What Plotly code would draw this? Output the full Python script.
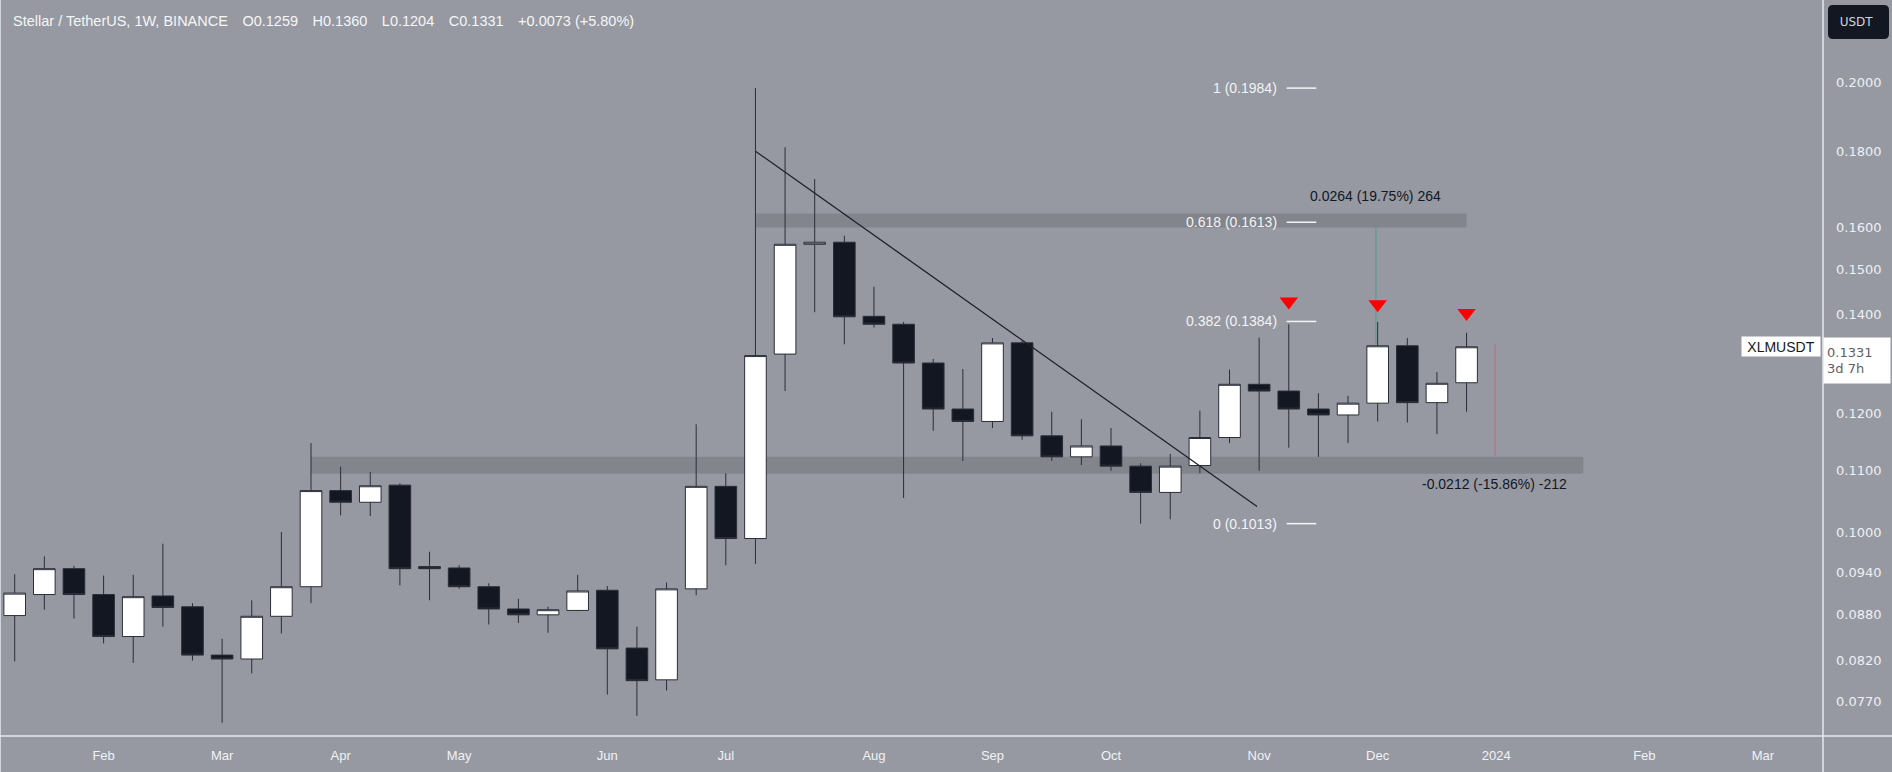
import numpy as np
import pandas as pd
import plotly.graph_objects as go

# XLM/USDT weekly candles (Binance), week of 16 Jan 2023 to week of 25 Dec 2023
weeks = pd.date_range("2023-01-16", periods=50, freq="W-MON")

opens = [0.0879, 0.0908, 0.0945, 0.0908, 0.0851, 0.0906, 0.0891, 0.0827, 0.0822, 0.0878,
         0.0919, 0.1066, 0.1047, 0.1075, 0.0948, 0.0946, 0.0919, 0.0888, 0.0880, 0.0886,
         0.0914, 0.0836, 0.0796, 0.0916, 0.1073, 0.0990, 0.1316, 0.1559, 0.1564, 0.1395,
         0.1378, 0.1298, 0.1209, 0.1186, 0.1339, 0.1160, 0.1123, 0.1142, 0.1107, 0.1063,
         0.1108, 0.1157, 0.1256, 0.1243, 0.1209, 0.1198, 0.1220, 0.1333, 0.1221, 0.1259]
highs = [0.0937, 0.0963, 0.0949, 0.0935, 0.0936, 0.0982, 0.0896, 0.0848, 0.0900, 0.1000,
         0.1147, 0.1106, 0.1097, 0.1078, 0.0970, 0.0950, 0.0924, 0.0902, 0.0891, 0.0936,
         0.0920, 0.0864, 0.0925, 0.1181, 0.1095, 0.1984, 0.1811, 0.1724, 0.1580, 0.1460,
         0.1383, 0.1306, 0.1286, 0.1349, 0.1344, 0.1204, 0.1190, 0.1174, 0.1112, 0.1128,
         0.1206, 0.1285, 0.1350, 0.1378, 0.1239, 0.1234, 0.1383, 0.1349, 0.1280, 0.1360]
lows = [0.0819, 0.0887, 0.0875, 0.0842, 0.0817, 0.0864, 0.0820, 0.0745, 0.0804, 0.0855,
        0.0896, 0.1026, 0.1025, 0.0921, 0.0900, 0.0916, 0.0867, 0.0869, 0.0856, 0.0885,
        0.0778, 0.0753, 0.0783, 0.0907, 0.0950, 0.0952, 0.1243, 0.1404, 0.1336, 0.1371,
        0.1054, 0.1169, 0.1116, 0.1174, 0.1153, 0.1116, 0.1109, 0.1099, 0.1013, 0.1020,
        0.1095, 0.1147, 0.1099, 0.1139, 0.1123, 0.1147, 0.1186, 0.1184, 0.1163, 0.1204]
closes = [0.0910, 0.0945, 0.0908, 0.0851, 0.0905, 0.0890, 0.0827, 0.0822, 0.0878, 0.0919,
          0.1066, 0.1047, 0.1074, 0.0945, 0.0945, 0.0919, 0.0888, 0.0880, 0.0887, 0.0913,
          0.0835, 0.0795, 0.0916, 0.1073, 0.0990, 0.1313, 0.1559, 0.1564, 0.1394, 0.1378,
          0.1298, 0.1209, 0.1186, 0.1339, 0.1160, 0.1123, 0.1142, 0.1107, 0.1063, 0.1107,
          0.1157, 0.1256, 0.1243, 0.1209, 0.1198, 0.1220, 0.1333, 0.1221, 0.1258, 0.1331]

# drawings on the chart
fib_levels = ["1", "0.618", "0.382", "0"]
fib_prices = [0.1984, 0.1613, 0.1384, 0.1013]
fib_dates = ["2023-11-12 12:00", "2023-11-19 12:00"]

trend_dates = ["2023-07-10", "2023-11-05 12:00"]
trend_prices = [0.1800, 0.1040]

support_dates = ["2023-03-27", "2024-01-21 14:00"]
support_prices = [0.1094, 0.1123]
resist_dates = ["2023-07-10", "2023-12-25"]
resist_prices = [0.1600, 0.1635]

arrow_dates = ["2023-11-13", "2023-12-04", "2023-12-25"]
arrow_prices = [0.1427, 0.1421, 0.1402]

up_date = "2023-12-03 14:00"
up_prices = [0.1337, 0.1601]
down_date = "2023-12-31 17:00"
down_prices = [0.1337, 0.1125]

y_ticks = [0.077, 0.082, 0.088, 0.094, 0.10, 0.11, 0.12, 0.14, 0.15, 0.16, 0.18, 0.20]
y_labels = [f"{v:.4f}" for v in y_ticks]

month_ticks = ["2023-02-06", "2023-03-06", "2023-04-03", "2023-05-01", "2023-06-05",
               "2023-07-03", "2023-08-07", "2023-09-04", "2023-10-02", "2023-11-06",
               "2023-12-04", "2024-01-01", "2024-02-05", "2024-03-04"]
month_labels = ["Feb", "Mar", "Apr", "May", "Jun", "Jul", "Aug", "Sep", "Oct", "Nov",
                "Dec", "2024", "Feb", "Mar"]

BG = "#9699a2"
BAND = "#83858d"
W, H = 1892, 772
ML, MR, MT, MB = 0, 69, 0, 36
PW, PH = W - ML - MR, H - MT - MB

fig = go.Figure()

fig.add_trace(go.Scatter(x=[up_date, up_date], y=up_prices, mode="lines",
                         line=dict(color="rgba(8,153,129,0.45)", width=1),
                         hoverinfo="skip", showlegend=False))
fig.add_trace(go.Scatter(x=[down_date, down_date], y=down_prices, mode="lines",
                         line=dict(color="rgba(242,54,69,0.45)", width=1),
                         hoverinfo="skip", showlegend=False))

for p in fib_prices:
    fig.add_trace(go.Scatter(x=fib_dates, y=[p, p], mode="lines",
                             line=dict(color="rgba(255,255,255,0.9)", width=1.5),
                             hoverinfo="skip", showlegend=False))

fig.add_trace(go.Candlestick(
    x=weeks, open=opens, high=highs, low=lows, close=closes,
    increasing=dict(fillcolor="#ffffff", line=dict(color="#2a2e39", width=1)),
    decreasing=dict(fillcolor="#131722", line=dict(color="#2a2e39", width=1)),
    whiskerwidth=0, hoverinfo="skip", showlegend=False))

fig.add_trace(go.Scatter(x=trend_dates, y=trend_prices, mode="lines",
                         line=dict(color="#1e222d", width=1.3),
                         hoverinfo="skip", showlegend=False))

fig.add_trace(go.Scatter(x=arrow_dates, y=arrow_prices, mode="markers",
                         marker=dict(symbol="triangle-down", size=16, color="#ff0000",
                                     line=dict(width=0)),
                         hoverinfo="skip", showlegend=False))

ann = []
for lvl, p in zip(fib_levels, fib_prices):
    ann.append(dict(x=fib_dates[0], y=np.log10(p), xref="x", yref="y",
                    text=f"{lvl} ({p:.4f})", showarrow=False, xanchor="right",
                    xshift=-8, font=dict(size=14, color="#f2f3f6")))

up_diff = up_prices[1] - up_prices[0]
down_diff = down_prices[1] - down_prices[0]
ann.append(dict(x=up_date, y=np.log10(0.1680), xref="x", yref="y", showarrow=False,
                text=f"{up_diff:.4f} ({up_diff / up_prices[0] * 100:.2f}%) {round(up_diff * 10000)}",
                font=dict(size=14, color="#131722")))
ann.append(dict(x=down_date, y=np.log10(0.1077), xref="x", yref="y", showarrow=False,
                text=f"{down_diff:.4f} ({down_diff / down_prices[0] * 100:.2f}%) {round(down_diff * 10000)}",
                font=dict(size=14, color="#131722")))

o, h, l, c = opens[-1], highs[-1], lows[-1], closes[-1]
chg = c - closes[-2]
sp = "\u2002"
header = (f"Stellar / TetherUS, 1W, BINANCE{sp}{sp}O{o:.4f}{sp}{sp}H{h:.4f}{sp}{sp}"
          f"L{l:.4f}{sp}{sp}C{c:.4f}{sp}{sp}{chg:+.4f} ({chg / closes[-2] * 100:+.2f}%)")
ann.append(dict(x=0, y=1, xref="paper", yref="paper", xanchor="left", yanchor="middle",
                xshift=11, yshift=-21, text=header, showarrow=False,
                font=dict(size=14.5, color="#f5f6f8")))

ann.append(dict(x=1, y=np.log10(c), xref="paper", yref="y", xanchor="right",
                yanchor="middle", xshift=-2, text="XLMUSDT", showarrow=False,
                bgcolor="#ffffff", borderpad=2, width=74, height=15,
                font=dict(size=14, color="#131722")))
ann.append(dict(x=1, y=np.log10(c), xref="paper", yref="y", xanchor="left",
                yanchor="top", xshift=0, yshift=10, text=f"{c:.4f}<br>3d 7h",
                showarrow=False, align="left", bgcolor="#ffffff", borderpad=3,
                width=60, height=39,
                font=dict(family="DejaVu Sans", size=13, color="#5d606b")))
ann.append(dict(x=1, y=1, xref="paper", yref="paper", xanchor="right", yanchor="middle",
                xshift=MR - 3, yshift=-22, width=61, height=20, align="center",
                text="USDT", showarrow=False,
                font=dict(family="DejaVu Sans", size=12, color="#d1d4dc")))


def rounded_rect(x0, y0, x1, y1, r):
    # pixel box -> paper path with rounded corners
    X = lambda px: px / PW
    Y = lambda py: 1 - py / PH
    return (f"M{X(x0 + r)},{Y(y0)} L{X(x1 - r)},{Y(y0)} Q{X(x1)},{Y(y0)} {X(x1)},{Y(y0 + r)} "
            f"L{X(x1)},{Y(y1 - r)} Q{X(x1)},{Y(y1)} {X(x1 - r)},{Y(y1)} "
            f"L{X(x0 + r)},{Y(y1)} Q{X(x0)},{Y(y1)} {X(x0)},{Y(y1 - r)} "
            f"L{X(x0)},{Y(y0 + r)} Q{X(x0)},{Y(y0)} {X(x0 + r)},{Y(y0)} Z")


sep = "#e6e8ee"
shapes = [
    # support / resistance zones, behind the candles
    dict(type="rect", xref="x", yref="y", x0=support_dates[0], x1=support_dates[1],
         y0=support_prices[0], y1=support_prices[1], fillcolor=BAND,
         line=dict(width=0), layer="below"),
    dict(type="rect", xref="x", yref="y", x0=resist_dates[0], x1=resist_dates[1],
         y0=resist_prices[0], y1=resist_prices[1], fillcolor=BAND,
         line=dict(width=0), layer="below"),
    dict(type="path", xref="paper", yref="paper", path=rounded_rect(1828, 5, 1889, 39, 5),
         fillcolor="#131722", line=dict(width=0), layer="below"),
    dict(type="line", xref="paper", yref="paper", x0=1, x1=1, y0=-MB / PH, y1=1,
         line=dict(color=sep, width=1.5)),
    dict(type="line", xref="paper", yref="paper", x0=0, x1=1 + MR / PW, y0=0, y1=0,
         line=dict(color=sep, width=1.5)),
    dict(type="line", xref="paper", yref="paper", x0=0, x1=0, y0=-MB / PH, y1=1,
         line=dict(color=sep, width=1.5)),
]

fig.update_layout(
    width=W, height=H,
    margin=dict(l=ML, r=MR, t=MT, b=MB),
    paper_bgcolor=BG, plot_bgcolor=BG,
    font=dict(family="Liberation Sans", color="#f0f2f6"),
    boxgap=0.27, boxgroupgap=0,
    showlegend=False,
    annotations=ann,
    shapes=shapes,
    xaxis=dict(type="date", range=["2023-01-12 12:40", "2024-03-18 05:00"],
               rangeslider=dict(visible=False), showgrid=False, zeroline=False,
               showline=False, tickvals=month_ticks, ticktext=month_labels, ticks="",
               ticklabelstandoff=10, tickfont=dict(size=13, color="#f0f2f6")),
    yaxis=dict(type="log", side="right",
               range=[np.log10(0.07299), np.log10(0.2273)],
               showgrid=False, zeroline=False, showline=False,
               tickvals=y_ticks, ticktext=y_labels, ticks="", ticklabelstandoff=12,
               tickfont=dict(family="DejaVu Sans", size=13, color="#eef0f5")),
)

fig.write_html("out.html", config={"displayModeBar": False},
               post_script="document.body.style.margin='0';")
